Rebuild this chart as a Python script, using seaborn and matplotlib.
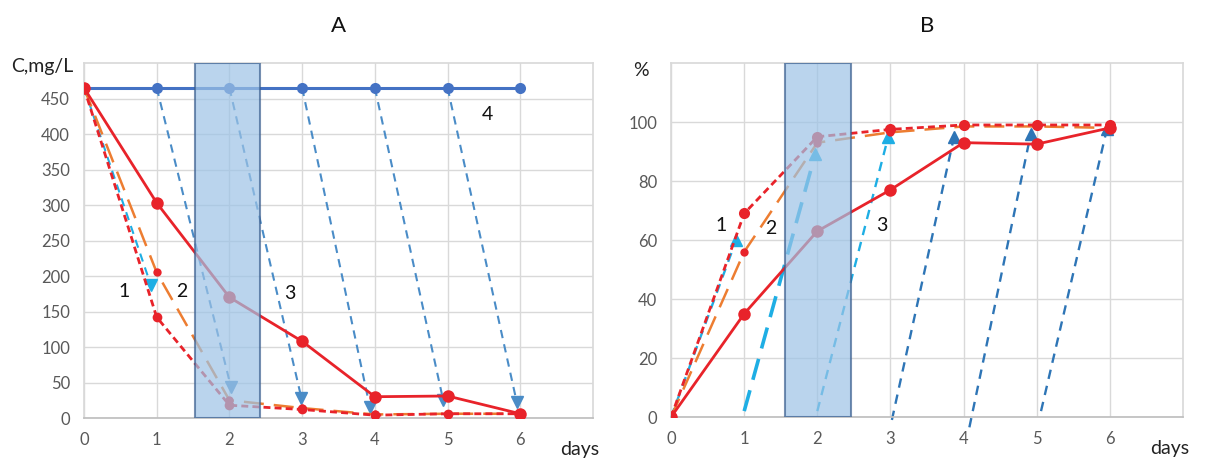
import matplotlib
matplotlib.use("Agg")
import matplotlib.pyplot as plt
import seaborn as sns
from matplotlib.patches import Rectangle

# data
days = [0, 1, 2, 3, 4, 5, 6]

# panel A, concentration
a_curve1 = [465, 142, 18, 12, 4, 6, 6]
a_curve2 = [465, 205, 25, 14, 5, 6, 6]
a_curve3 = [465, 303, 170, 108, 30, 31, 6]
a_curve4 = [465, 465, 465, 465, 465, 465, 465]

a_arrow_x0 = [0, 1, 2, 3, 4, 5]
a_arrow_y0 = [465, 465, 465, 465, 465, 465]
a_arrow_x1 = [0.92, 2.02, 2.99, 3.93, 4.94, 5.95]
a_arrow_y1 = [187, 44, 28, 16, 25, 23]

# panel B, percent
b_curve1 = [0, 69, 95, 97.5, 99, 99, 99]
b_curve2 = [0, 56, 93, 96.5, 98.5, 98.5, 98]
b_curve3 = [0, 35, 63, 77, 93, 92.5, 98]

b_arrow_x0 = [0, 1, 2, 3.02, 4.08, 5.06]
b_arrow_y0 = [0, 2, 2, -1, -3.5, 2]
b_arrow_x1 = [0.89, 1.97, 2.97, 3.87, 4.92, 5.96]
b_arrow_y1 = [60, 89, 95, 95, 96, 97.5]

sns.set_theme(style="whitegrid")
plt.rcParams['font.family'] = ['Lato', 'DejaVu Sans']
plt.rcParams['grid.color'] = '#d9d9d9'

RED = '#e8232a'
ORANGE = '#ed7d31'
BLUE = '#4472c4'
CYAN = '#1eaee4'
ARROW = '#4a8cc7'
DARKARROW = '#2e75b6'

fig = plt.figure(figsize=(12.07, 4.59), dpi=100)
axA = fig.add_axes([0.0696, 0.0893, 0.4217, 0.7734])
axB = fig.add_axes([0.556, 0.0915, 0.424, 0.7712])


def setup(ax, ymax, yticks, ylabel, title):
    ax.set_xlim(0, 7)
    ax.set_ylim(0, ymax)
    ax.set_xticks(range(0, 7))
    ax.set_yticks(yticks)
    ax.tick_params(axis='both', labelsize=12, colors='#595959', pad=10, length=0)
    for s in ['left', 'top', 'right']:
        ax.spines[s].set_color('#d9d9d9')
    ax.spines['bottom'].set_color('#bfbfbf')
    ax.set_xlabel('')
    ax.set_ylabel('')
    ax.text(6.55, -0.09 * ymax, 'days', fontsize=14, color='#222222', ha='left', va='center',
            transform=ax.transData, clip_on=False)
    ax.set_title(title, fontsize=16, color='#111111', pad=22)


# ---------- A ----------
ax = axA
setup(ax, 500, range(0, 451, 50), 'C,mg/L', 'A')
fig.text(0.035, 0.855, 'C,mg/L', fontsize=14, color='#222222', ha='center', va='center')

for i in range(len(a_arrow_x0)):
    c = CYAN if i == 0 else ARROW
    ax.plot([a_arrow_x0[i], a_arrow_x1[i]], [a_arrow_y0[i], a_arrow_y1[i]],
            ls=(0, (4, 3)), color=c, lw=1.5, zorder=2)
    ax.plot(a_arrow_x1[i], a_arrow_y1[i], marker='v', ms=9, color=c, zorder=3)

sns.lineplot(x=days, y=a_curve4, color=BLUE, lw=2.2, marker='o', ms=8,
             markeredgewidth=0, ax=ax, zorder=4)
sns.lineplot(x=days, y=a_curve2, color=ORANGE, lw=1.8, linestyle=(0, (8, 4)),
             marker='o', ms=6, markerfacecolor=RED, markeredgewidth=0, ax=ax, zorder=4)
sns.lineplot(x=days, y=a_curve1, color=RED, lw=2, linestyle=(0, (2.5, 1.5)),
             marker='o', ms=7, markeredgewidth=0, ax=ax, zorder=4)
sns.lineplot(x=days, y=a_curve3, color=RED, lw=2, marker='o', ms=9,
             markeredgewidth=0, ax=ax, zorder=4)

ax.add_patch(Rectangle((1.53, 0), 0.89, 500, facecolor='#9dc3e6', alpha=0.7,
                       edgecolor='#3b5f8f', lw=1.5, zorder=5))

ax.text(0.55, 178, '1', fontsize=14, ha='center', va='center', color='#111111')
ax.text(1.34, 178, '2', fontsize=14, ha='center', va='center', color='#111111')
ax.text(2.83, 176, '3', fontsize=14, ha='center', va='center', color='#111111')
ax.text(5.55, 427, '4', fontsize=14, ha='center', va='center', color='#111111')

# ---------- B ----------
ax = axB
setup(ax, 120, range(0, 101, 20), '%', 'B')
fig.text(0.531, 0.847, '%', fontsize=14, color='#222222', ha='center', va='center')

for i in range(len(b_arrow_x0)):
    c = CYAN if i < 3 else DARKARROW
    lw = 2.6 if i == 1 else 1.7
    dash = (0, (6, 3)) if i == 1 else (0, (4, 3))
    ax.plot([b_arrow_x0[i], b_arrow_x1[i]], [b_arrow_y0[i], b_arrow_y1[i]],
            ls=dash, color=c, lw=lw, zorder=2, clip_on=False)
    ax.plot(b_arrow_x1[i], b_arrow_y1[i], marker='^', ms=9, color=c, zorder=3)

sns.lineplot(x=days, y=b_curve2, color=ORANGE, lw=1.8, linestyle=(0, (8, 4)),
             marker='o', ms=6, markerfacecolor=RED, markeredgewidth=0, ax=ax, zorder=4)
sns.lineplot(x=days, y=b_curve1, color=RED, lw=2, linestyle=(0, (2.5, 1.5)),
             marker='o', ms=8, markeredgewidth=0, ax=ax, zorder=4)
sns.lineplot(x=days, y=b_curve3, color=RED, lw=2, marker='o', ms=9,
             markeredgewidth=0, ax=ax, zorder=4)

ax.add_patch(Rectangle((1.56, 0), 0.9, 120, facecolor='#9dc3e6', alpha=0.7,
                       edgecolor='#3b5f8f', lw=1.5, zorder=5))

ax.text(0.68, 65, '1', fontsize=14, ha='center', va='center', color='#111111')
ax.text(1.37, 64, '2', fontsize=14, ha='center', va='center', color='#111111')
ax.text(2.88, 65, '3', fontsize=14, ha='center', va='center', color='#111111')

fig.savefig('out.png', dpi=100)
